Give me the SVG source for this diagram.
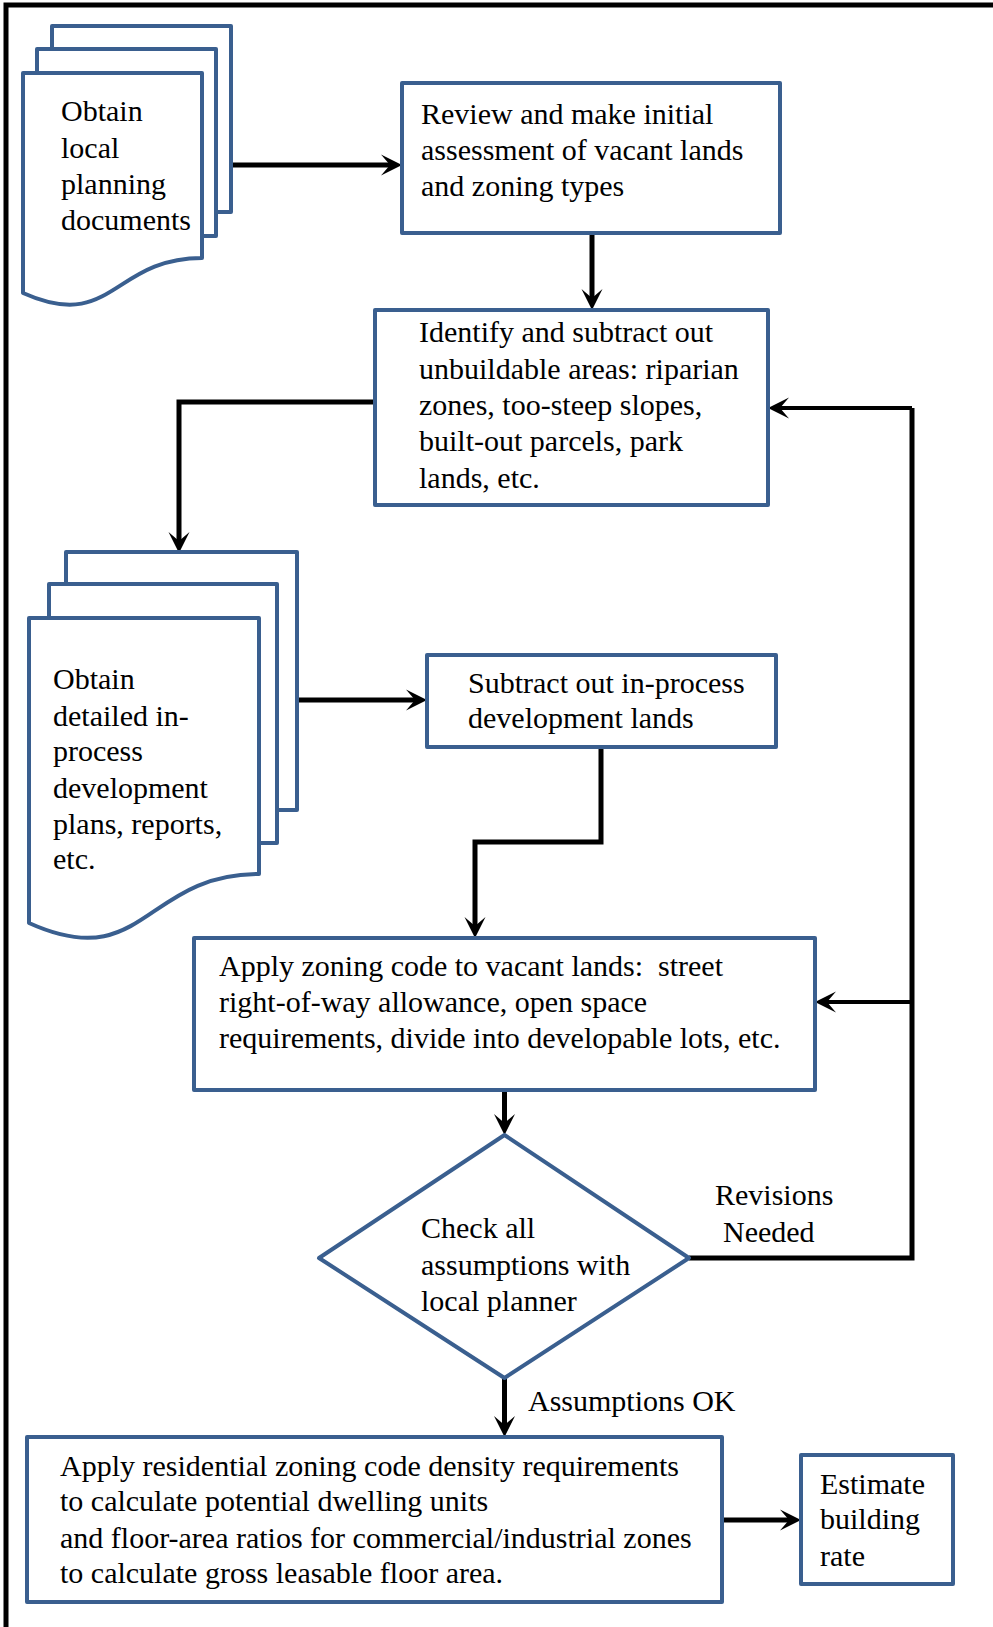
<svg xmlns="http://www.w3.org/2000/svg" width="993" height="1627" viewBox="0 0 993 1627">
<style>
.shape{fill:#ffffff;stroke:#3A5F8F;stroke-width:4;stroke-linejoin:round}
.t{font-family:"Liberation Serif","Times New Roman",serif;font-size:30px;fill:#000000}
.c{fill:none;stroke:#000000;stroke-width:5;stroke-linejoin:miter}
.cthin{fill:none;stroke:#000000;stroke-width:4}
</style>
<defs>
<marker id="ah" markerUnits="userSpaceOnUse" viewBox="-22 -12 24 24" refX="-12" refY="0" markerWidth="24" markerHeight="24" orient="auto">
<path d="M0,0 L-21,-10.5 L-12,0 L-21,10.5 Z" fill="#000000"/>
</marker>
</defs>
<rect width="993" height="1627" fill="#ffffff"/>
<path d="M6,1627 V5 H993" fill="none" stroke="#000000" stroke-width="5"/>

<g id="connectors">
<path class="c" d="M231,165 H390" marker-end="url(#ah)"/>
<path class="c" d="M592,233 V298" marker-end="url(#ah)"/>
<path class="c" d="M375,402 H179 V541" marker-end="url(#ah)"/>
<path class="c" d="M297,700 H415" marker-end="url(#ah)"/>
<path class="c" d="M601,747 V842 H475 V926" marker-end="url(#ah)"/>
<path class="c" d="M504.5,1090 V1123" marker-end="url(#ah)"/>
<path class="c" d="M504.5,1378 V1425" marker-end="url(#ah)"/>
<path class="c" d="M722,1520 H789" marker-end="url(#ah)"/>
<path class="c" d="M689,1258 H912 V408"/>
<path class="cthin" d="M912,408 H780" marker-end="url(#ah)"/>
<path class="cthin" d="M912,1002 H827" marker-end="url(#ah)"/>
</g>

<g id="doc1">
<rect class="shape" x="52" y="26" width="179" height="186"/>
<rect class="shape" x="37" y="49" width="179" height="187"/>
<path class="shape" d="M23,73 H202 V258 C112.5,258 112.5,333 23,293 Z"/>
<text class="t" x="61" y="121">Obtain</text>
<text class="t" x="61" y="158">local</text>
<text class="t" x="61" y="194">planning</text>
<text class="t" x="61" y="230">documents</text>
</g>

<g id="review">
<rect class="shape" x="402" y="83" width="378" height="150"/>
<text class="t" x="421" y="124">Review and make initial</text>
<text class="t" x="421" y="160">assessment of vacant lands</text>
<text class="t" x="421" y="196">and zoning types</text>
</g>

<g id="identify">
<rect class="shape" x="375" y="310" width="393" height="195"/>
<text class="t" x="419" y="342">Identify and subtract out</text>
<text class="t" x="419" y="379">unbuildable areas: riparian</text>
<text class="t" x="419" y="415">zones, too-steep slopes,</text>
<text class="t" x="419" y="451">built-out parcels, park</text>
<text class="t" x="419" y="488">lands, etc.</text>
</g>

<g id="doc2">
<rect class="shape" x="66" y="552" width="231" height="258"/>
<rect class="shape" x="49" y="584" width="228" height="259"/>
<path class="shape" d="M29,618 H259 V874 C144,874 144,975 29,923 Z"/>
<text class="t" x="53" y="689">Obtain</text>
<text class="t" x="53" y="726">detailed in-</text>
<text class="t" x="53" y="761">process</text>
<text class="t" x="53" y="798">development</text>
<text class="t" x="53" y="834">plans, reports,</text>
<text class="t" x="53" y="869">etc.</text>
</g>

<g id="subtract">
<rect class="shape" x="427" y="655" width="349" height="92"/>
<text class="t" x="468" y="693">Subtract out in-process</text>
<text class="t" x="468" y="728">development lands</text>
</g>

<g id="apply-zoning">
<rect class="shape" x="194" y="938" width="621" height="152"/>
<text class="t" x="219" y="976" xml:space="preserve">Apply zoning code to vacant lands:  street</text>
<text class="t" x="219" y="1012">right-of-way allowance, open space</text>
<text class="t" x="219" y="1048">requirements, divide into developable lots, etc.</text>
</g>

<g id="check">
<path class="shape" d="M504.5,1135 L689,1258 L504.5,1378 L319,1258 Z"/>
<text class="t" x="421" y="1238">Check all</text>
<text class="t" x="421" y="1275">assumptions with</text>
<text class="t" x="421" y="1311">local planner</text>
</g>

<g id="labels">
<text class="t" x="715" y="1205">Revisions</text>
<text class="t" x="723" y="1242">Needed</text>
<text class="t" x="528" y="1411">Assumptions OK</text>
</g>

<g id="apply-residential">
<rect class="shape" x="27" y="1437" width="695" height="165"/>
<text class="t" x="60" y="1476">Apply residential zoning code density requirements</text>
<text class="t" x="60" y="1511">to calculate potential dwelling units</text>
<text class="t" x="60" y="1548">and floor-area ratios for commercial/industrial zones</text>
<text class="t" x="60" y="1583">to calculate gross leasable floor area.</text>
</g>

<g id="estimate">
<rect class="shape" x="801" y="1455" width="152" height="129"/>
<text class="t" x="820" y="1494">Estimate</text>
<text class="t" x="820" y="1529">building</text>
<text class="t" x="820" y="1566">rate</text>
</g>
</svg>
